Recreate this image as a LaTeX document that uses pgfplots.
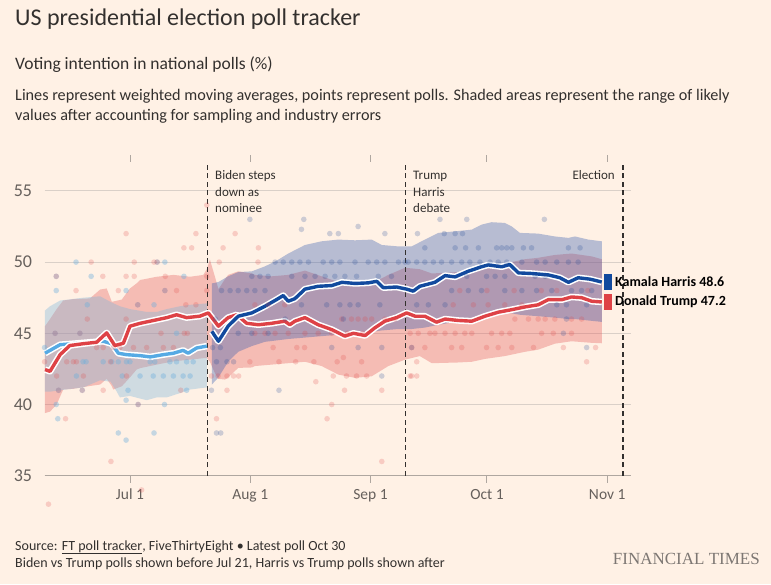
\documentclass[border=0pt]{standalone}
\usepackage{pgfplots}
\pgfplotsset{compat=1.18}
\usepackage{pgfplotstable}
\usepgfplotslibrary{fillbetween}
\usepackage{fontspec}
\setmainfont{Carlito}
\newfontfamily\ftserif{Liberation Serif}

\definecolor{bg}{RGB}{255,241,229}
\definecolor{txt}{RGB}{51,48,46}
\definecolor{lab}{RGB}{102,96,92}
\definecolor{gridc}{RGB}{218,208,200}
\definecolor{axisc}{RGB}{175,167,160}
\definecolor{trumpc}{RGB}{222,66,70}
\definecolor{harrisc}{RGB}{18,74,158}
\definecolor{bidenc}{RGB}{86,170,228}
\definecolor{trumpband}{RGB}{229,90,90}
\definecolor{harrisband}{RGB}{50,90,175}
\definecolor{bidenband}{RGB}{120,180,220}
\definecolor{trumpdot}{RGB}{225,70,70}
\definecolor{harrisdot}{RGB}{30,70,150}
\definecolor{bidendot}{RGB}{110,175,220}
\definecolor{ftgray}{RGB}{125,119,115}
\pagecolor{bg}

\pgfplotstableread{
d v
-21.9 42.45
-20.6 42.33
-18.0 43.5
-15.5 44.14
-12.0 44.27
-8.6 44.37
-6.0 45.03
-3.9 44.14
-1.7 44.3
0.0 45.5
2.6 45.7
5.2 45.85
9.5 46.1
12.0 46.3
14.6 46.1
18.0 46.2
20.2 46.43
22.8 45.5
25.3 46.1
27.5 46.3
30.1 45.7
33.1 45.6
36.5 45.7
39.9 45.85
41.2 45.6
42.5 45.85
45.1 46.1
48.5 45.6
52.0 45.26
55.4 44.8
57.6 45.0
60.6 44.84
63.1 45.38
65.7 45.85
68.7 46.1
71.3 46.43
73.5 46.2
76.0 46.2
79.0 45.78
81.2 46.0
84.6 45.9
88.1 45.85
91.5 46.2
94.9 46.48
98.4 46.66
101.8 46.85
105.2 47.0
107.8 47.36
111.3 47.36
113.8 47.55
116.4 47.5
119.0 47.25
121.6 47.2
}\trumpline

\pgfplotstableread{
d v
-21.9 43.6
-18.0 44.2
-14.6 44.27
-10.3 44.37
-6.9 44.44
-4.7 44.27
-3.0 43.6
-0.9 43.5
2.6 43.43
5.2 43.34
8.6 43.5
11.2 43.6
13.7 43.8
15.0 43.6
17.2 43.97
19.8 44.1
}\bidenline

\pgfplotstableread{
d v
21.1 45.14
22.8 44.44
25.3 45.5
27.9 46.2
31.4 46.43
34.8 46.9
37.8 47.37
39.5 47.65
40.8 47.25
42.5 47.43
45.1 48.1
48.5 48.3
52.0 48.35
54.6 48.58
58.0 48.5
61.4 48.54
63.6 48.65
65.3 48.2
68.7 48.25
71.3 48.1
73.0 47.96
74.7 48.3
78.6 48.58
81.2 49.05
83.8 48.96
87.2 49.36
90.6 49.67
92.3 49.8
95.8 49.67
97.9 49.83
100.1 49.24
103.5 49.2
107.8 49.1
110.8 48.9
113.0 48.58
115.5 48.9
118.6 48.8
121.6 48.6
}\harrisline

\pgfplotstableread{
d lo hi
-21.9 40.9 46.6
-20.6 40.9 46.9
-18.0 41.0 47.3
-12.0 41.2 47.5
-7.7 41.7 47.6
-5.0 41.6 47.2
-3.4 40.9 47.0
-2.6 40.5 46.9
0.0 40.6 46.7
4.3 40.3 46.5
6.9 40.5 46.5
9.5 40.5 46.7
12.9 40.8 46.9
15.5 41.05 47.0
19.8 41.2 47.1
}\bidenbandtab

\pgfplotstableread{
d lo hi
-21.9 39.4 45.5
-20.6 39.5 46.0
-18.9 40.0 46.7
-17.2 41.05 47.3
-14.6 41.1 47.4
-10.3 41.3 47.45
-7.7 41.4 48.07
-6.0 41.8 48.15
-4.7 41.3 47.23
-4.3 41.05 47.23
-2.1 41.28 47.37
0.0 41.9 48.15
1.7 42.45 48.5
2.6 42.55 48.74
6.9 42.8 48.97
11.2 43.03 49.1
15.5 43.15 48.97
18.9 43.25 49.1
19.8 43.27 49.5
20.6 43.0 50.18
21.9 42.2 48.97
22.8 41.8 48.1
24.5 41.75 48.8
25.3 41.9 49.1
27.9 42.57 49.35
31.4 42.6 49.2
32.2 42.7 49.1
36.5 42.8 49.0
40.8 42.9 49.1
45.1 43.0 49.4
49.4 42.7 49.0
53.7 42.1 48.6
58.0 41.87 48.3
62.3 41.98 48.5
66.6 42.7 49.1
70.9 43.15 49.6
74.7 43.4 49.5
77.8 42.9 49.2
84.6 42.95 49.3
88.1 43.0 49.3
91.5 43.2 49.6
96.6 43.4 49.9
101.8 43.7 50.2
105.2 43.85 50.3
109.5 44.27 50.5
113.8 44.44 50.6
119.0 44.33 50.4
121.6 44.3 50.2
}\trumpbandtab

\pgfplotstableread{
d lo hi
21.1 41.4 48.5
22.8 41.9 48.6
25.3 43.0 49.0
27.9 43.7 49.3
31.4 44.1 49.35
34.8 44.4 49.7
37.8 44.5 50.1
40.8 44.6 50.6
45.1 44.7 51.2
49.4 44.8 51.46
53.7 44.9 51.58
58.0 45.0 51.53
62.3 45.1 51.58
64.9 45.2 51.2
69.2 45.3 51.1
72.6 45.3 51.1
76.0 45.4 51.58
79.5 45.6 52.05
83.8 45.8 52.16
88.1 46.1 52.28
90.6 46.3 52.63
93.2 46.4 52.8
96.6 46.5 52.75
98.4 46.4 52.5
100.5 46.3 52.05
105.2 46.2 52.0
109.5 46.1 51.8
113.0 46.0 51.7
114.7 46.0 51.8
118.1 45.9 51.58
121.6 45.8 51.46
}\harrisbandtab

\pgfplotstableread{
d v
-19 49
-10 49
-13.9 50
7 50
9 50
-19 48
-1 48
9 48
-11 47
6.2 47
2 47
-19.3 45
-12.9 45
12 45
13.9 49
-22 44
-12.1 43
-11.3 43
-6.9 43
-4.7 43
-3 43
-0.9 43
0 43
5.2 43
6.4 43
10.3 43
12 43
14.6 43
16.3 43
-13.8 42
-2 42
2.6 42
6 42
8.6 42
11.2 42
13.7 42
15.5 42
-18.4 41
-12.3 41
-0.5 41
14.6 41
-19 40
2.1 40
-1 40.3
8.9 40
-18.6 39
-3 38
6.2 38
-1 37.5
}\bidendots

\pgfplotstableread{
d v
-1 52
17 52
13.9 51
15.9 51
19.8 54
-10 50
1.1 50
6.2 50
7 50
-19 49
-7 49
-1 49
1.1 49
9.1 49
19.8 49
-13.9 48
-3 48
9 48
12 48
19.8 48
2 47
14.4 47
17 47
-11 46
-1 46
-19.3 45
-12.9 45
8 45
14 45
14.8 45
-8.6 44
-6.9 44
-4.3 44
-2.6 44
0.9 44
4.3 44
8.6 44
11.2 44
-22 43
-16.3 43
-14.6 43
-13.8 43
-5 43
-18.9 42
-12 42
-0.9 42
-18.4 41
-12.3 41
-6.9 41
13.1 41
2.1 40
-16.6 39
-4.9 36
3 34
-21 33
24 51
33.1 51
27.1 52
23 50
33 50
32.2 47
35.6 47
39.9 47
54.6 46
57.1 46
58.8 46
60.6 46
62.3 46
65.7 46
68.3 46
32.2 45
34.8 45
37.4 45
40.8 45
45.1 45
48.5 45
52 45
56 45
60 45
36.9 44
43 44
45 44
72.6 44
30.9 43
38.4 43
42.7 43
47.4 43
53.4 43
55 43.3
59.7 43
73.9 43
117.7 43
21 42
22.7 42
25 42
26.7 42
28 42
52.4 42
55.8 42
58.4 42
61 42
72.6 42
73.9 42
72.2 42
25 41
47.9 41.6
55.3 41
64.9 41
52 40
22.3 39
50.8 39
64.9 36
72.2 45
74.3 45
77.3 45
78.6 45
81.2 45
83.8 45
86.3 45
88.1 45
93.2 45
95.8 45
97.9 45
106.1 45
109.1 45
113.8 45
83.3 47
88.5 47
92.3 47
96.6 47
101 47
99.2 46
102.7 46
105.2 46
107 46
109.5 46
113.8 46
116.4 46
76 44
82.9 44
85.5 44
91.9 44
94.9 44
98.4 44
104 44
111.7 44
120 44
85 48
92 48
99 48
106 48
110 48
118 48
}\trumpdots

\pgfplotstableread{
d v
30.9 53
44.8 53
44.2 52.3
58.8 52.5
51.5 52
53.7 52
65.7 52
37.4 50
39.5 50
41.7 50
43.8 50
46 50
49.8 50
52 50
54.1 50
58 50
61.4 50
63.6 50
65.7 50
69.2 50
70.9 50
31.4 49
33.5 49
35.6 49
41.7 49
45.1 49
47.7 49
50.3 49
52.8 49
55.4 49
58.4 49
64 49
67.4 49
23.6 48
25.8 48
27.9 48
30.1 48
32.2 48
34.8 48
44.2 47
50.7 47
54.1 47
56.7 47
58.8 47
64.4 47
22 46
40 46
55 46
27.9 45
31.4 45
35.6 45
21.3 44
23.3 44
52 44
58.8 44
64.9 44
22.3 43
25 43
26.7 43
64.9 42
21 41
38.4 41
22.3 38
23.4 38
79.9 53
86.8 53
106.8 53
74.1 52
81 52
83.8 52
85.7 52
76 51
83.8 51
86.5 51
89.8 51
94.5 51
95.8 51
97.1 51
98.4 51
101.4 51
103.5 51
113 51
116 51
71.7 50
73.9 50
76 50
78.2 50
80.3 50
82.9 50
85.5 50
87.6 50
90.2 50
92.8 50
94.9 50
97.1 50
101 50
104.8 50
107 50
110 50
113 50
115.5 50
86.8 49
91.9 49
94.1 49
96.6 49
104.4 49
107 49
82.9 48
87.2 48
90.6 48
96.6 48
101 48
104.8 48
108.7 48
113.8 48
116.4 48
119 48
73.9 47
76.9 47
81.2 47
110 47
112.5 47
117.7 47
112.5 46
111.7 45
72.6 44
117.7 44
}\harrisdots

\begin{document}
\begin{tikzpicture}[x=1pt,y=1pt]
\path (0,0) rectangle (771,584);

\begin{axis}[
  at={(44.6pt,108.3pt)}, anchor=south west,
  scale only axis, width=585.9pt, height=313.3pt,
  xmin=-22, xmax=129, ymin=35, ymax=57,
  clip=false,
  axis line style={draw=none},
  ytick={35,40,45,50,55},
  ymajorgrids,
  grid style={color=gridc, line width=0.9pt},
  xtick={0,31,62,92,123},
  xticklabels={Jul 1,Aug 1,Sep 1,Oct 1,Nov 1},
  tick align=outside,
  major tick length=7pt,
  xtick style={draw=axisc, line width=0.9pt},
  ytick style={draw=none},
  /pgf/number format/assume math mode=true,
  yticklabel style={font=\fontsize{18}{18}\selectfont, text=lab, xshift=-2pt},
  xticklabel style={font=\fontsize{15.5}{15.5}\selectfont, text=lab, yshift=-3pt},
]
% bottom axis line
\draw[color=axisc, line width=1pt] (axis cs:-22,35) -- (axis cs:129,35);

% Trump band
\addplot[draw=none, name path=tu, forget plot] table[x=d,y=hi]{\trumpbandtab};
\addplot[draw=none, name path=tl, forget plot] table[x=d,y=lo]{\trumpbandtab};
\addplot[fill=trumpband, fill opacity=0.35, draw=none, forget plot] fill between[of=tu and tl];
% Biden band
\addplot[draw=none, name path=bu, forget plot] table[x=d,y=hi]{\bidenbandtab};
\addplot[draw=none, name path=bl, forget plot] table[x=d,y=lo]{\bidenbandtab};
\addplot[fill=bidenband, fill opacity=0.35, draw=none, forget plot] fill between[of=bu and bl];
% Harris band
\addplot[draw=none, name path=hu, forget plot] table[x=d,y=hi]{\harrisbandtab};
\addplot[draw=none, name path=hl, forget plot] table[x=d,y=lo]{\harrisbandtab};
\addplot[fill=harrisband, fill opacity=0.35, draw=none, forget plot] fill between[of=hu and hl];

% poll dots
\addplot[bidendot, only marks, mark=*, mark size=2.8pt, mark options={draw opacity=0, fill=bidendot, fill opacity=0.4}] table[x=d,y=v]{\bidendots};
\addplot[trumpdot, only marks, mark=*, mark size=2.8pt, mark options={draw opacity=0, fill=trumpdot, fill opacity=0.22}] table[x=d,y=v]{\trumpdots};
\addplot[harrisdot, only marks, mark=*, mark size=2.8pt, mark options={draw opacity=0, fill=harrisdot, fill opacity=0.22}] table[x=d,y=v]{\harrisdots};

% event lines
\draw[color=txt, line width=1.6pt, dash pattern=on 5pt off 3.5pt] (axis cs:20,35) -- (axis cs:20,57);
\draw[color=txt, line width=1.6pt, dash pattern=on 5pt off 3.5pt] (axis cs:71,35) -- (axis cs:71,57);
\draw[color=txt, line width=1.6pt, dash pattern=on 5pt off 3.5pt] (axis cs:127,35) -- (axis cs:127,57);

% averages with halo
\addplot[white, line width=6.5pt, line join=round] table[x=d,y=v]{\bidenline};
\addplot[bidenc, line width=3.4pt, line join=round] table[x=d,y=v]{\bidenline};
\addplot[white, line width=6.5pt, line join=round] table[x=d,y=v]{\trumpline};
\addplot[trumpc, line width=3.4pt, line join=round] table[x=d,y=v]{\trumpline};
\addplot[white, line width=6.5pt, line join=round] table[x=d,y=v]{\harrisline};
\addplot[harrisc, line width=3.4pt, line join=round] table[x=d,y=v]{\harrisline};
\end{axis}

% titles
\node[anchor=base west, inner sep=0, text=txt, font=\fontsize{24}{24}\selectfont] at (15,558) {US presidential election poll tracker};
\node[anchor=base west, inner sep=0, text=txt, font=\fontsize{17.5}{17.5}\selectfont] at (15,514) {Voting intention in national polls (\%)};
\node[anchor=base west, inner sep=0, text=txt, font=\fontsize{16.2}{16.2}\selectfont] at (15,483) {Lines represent weighted moving averages, points represent polls. Shaded areas represent the range of likely};
\node[anchor=base west, inner sep=0, text=txt, font=\fontsize{16.2}{16.2}\selectfont] at (15,463) {values after accounting for sampling and industry errors};

% annotations
\node[anchor=base west, inner sep=0, text=txt, font=\fontsize{13}{13}\selectfont] at (215,404) {Biden steps};
\node[anchor=base west, inner sep=0, text=txt, font=\fontsize{13}{13}\selectfont] at (215,387.5) {down as};
\node[anchor=base west, inner sep=0, text=txt, font=\fontsize{13}{13}\selectfont] at (215,371) {nominee};
\node[anchor=base west, inner sep=0, text=txt, font=\fontsize{13}{13}\selectfont] at (413,404) {Trump};
\node[anchor=base west, inner sep=0, text=txt, font=\fontsize{13}{13}\selectfont] at (413,387.5) {Harris};
\node[anchor=base west, inner sep=0, text=txt, font=\fontsize{13}{13}\selectfont] at (413,371) {debate};
\node[anchor=base east, inner sep=0, text=txt, font=\fontsize{13}{13}\selectfont] at (615,404) {Election};

% end labels
\fill[harrisc] (604,294) rectangle (612,310);
\fill[trumpc] (604,274) rectangle (612,290);
\node[anchor=west, inner sep=0, text=black, font=\bfseries\fontsize{14}{14}\selectfont] at (615,302) {Kamala Harris 48.6};
\node[anchor=west, inner sep=0, text=black, font=\bfseries\fontsize{14}{14}\selectfont] at (615,282) {Donald Trump 47.2};

% source
\node[anchor=base west, inner sep=0, text=txt, font=\fontsize{14}{14}\selectfont] at (15,34) {Source: \underline{FT poll tracker}, FiveThirtyEight • Latest poll Oct 30};
\node[anchor=base west, inner sep=0, text=txt, font=\fontsize{14}{14}\selectfont] at (15,17) {Biden vs Trump polls shown before Jul 21, Harris vs Trump polls shown after};
\node[anchor=base east, inner sep=0, text=ftgray, font=\ftserif\fontsize{17}{17}\selectfont] at (760,20) {FINANCIAL TIMES};
\end{tikzpicture}
\end{document}
